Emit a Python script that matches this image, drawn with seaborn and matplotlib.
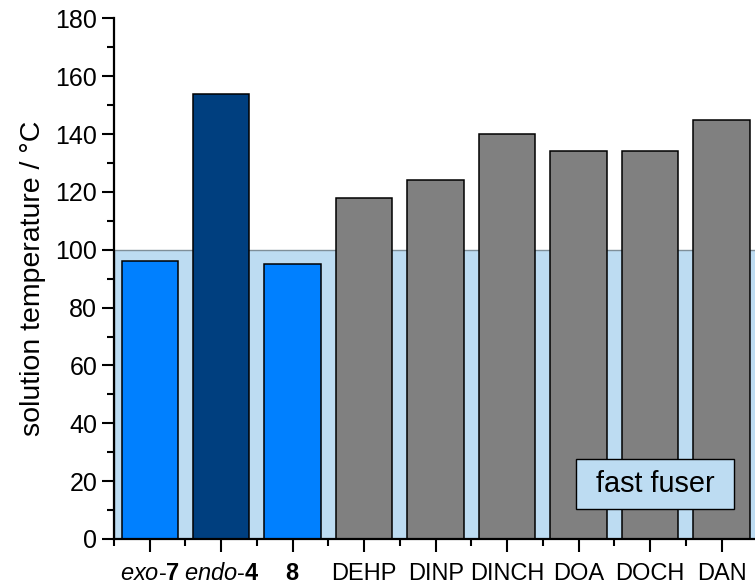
import matplotlib
matplotlib.use("Agg")
import matplotlib.pyplot as plt
from matplotlib.patches import Rectangle
import seaborn as sns
import pandas as pd
from matplotlib.ticker import MultipleLocator, FixedLocator

# Data
categories = ["exo-7", "endo-4", "8", "DEHP", "DINP", "DINCH", "DOA", "DOCH", "DAN"]
tick_labels = [r"$\mathit{exo}$-$\mathbf{7}$", r"$\mathit{endo}$-$\mathbf{4}$", r"$\mathbf{8}$",
               "DEHP", "DINP", "DINCH", "DOA", "DOCH", "DAN"]
temperatures = [96, 154, 95, 118, 124, 140, 134, 134, 145]
bar_colors = ["#0080FF", "#003F7F", "#0080FF", "#808080", "#808080",
              "#808080", "#808080", "#808080", "#808080"]
fast_fuser_limit = 100

sns.set_style("ticks")
plt.rcParams["font.family"] = ["Liberation Sans", "DejaVu Sans"]
plt.rcParams["text.color"] = "black"
plt.rcParams["axes.labelcolor"] = "black"
plt.rcParams["mathtext.fontset"] = "custom"
plt.rcParams["mathtext.rm"] = "Liberation Sans"
plt.rcParams["mathtext.it"] = "Liberation Sans:italic"
plt.rcParams["mathtext.bf"] = "Liberation Sans:bold"

df = pd.DataFrame({"compound": categories, "temp": temperatures})

fig = plt.figure(figsize=(7.55, 5.87), dpi=100)
ax = fig.add_axes([0.151, 0.0818, 0.852, 0.887])

# fast fuser region
ax.axhspan(0, fast_fuser_limit, xmin=0, xmax=1, facecolor="#BDDCF2",
           edgecolor="#7f8f99", linewidth=1.0, zorder=0)

sns.barplot(data=df, x="compound", y="temp", hue="compound",
            palette=dict(zip(categories, bar_colors)), legend=False,
            width=0.79, edgecolor="black", linewidth=1.1, saturation=1,
            ax=ax, zorder=2)

ax.set_xlim(-0.5, len(categories) - 0.5)
ax.set_ylim(0, 180)
ax.yaxis.set_major_locator(MultipleLocator(20))
ax.yaxis.set_minor_locator(MultipleLocator(10))
ax.xaxis.set_major_locator(FixedLocator(range(len(categories))))
ax.xaxis.set_minor_locator(FixedLocator([i - 0.5 for i in range(len(categories) + 1)]))
ax.set_xticklabels(tick_labels)

for side in ["top", "right"]:
    ax.spines[side].set_visible(False)
for side in ["left", "bottom"]:
    ax.spines[side].set_linewidth(1.6)
    ax.spines[side].set_color("black")
    ax.spines[side].set_zorder(5)

ax.tick_params(axis="both", which="major", direction="out", length=9, width=1.5,
               color="black", labelcolor="black")
ax.tick_params(axis="both", which="minor", direction="out", length=5, width=1.5,
               color="black")
ax.tick_params(axis="x", which="major", pad=8, labelsize=17)
ax.tick_params(axis="y", which="major", pad=3, labelsize=18)

ax.set_xlabel("")
ax.set_ylabel("solution temperature / °C", fontsize=20.5, labelpad=7)

# legend-style box for the shaded region
ax.add_patch(Rectangle((5.96, 10.4), 2.21, 17.3, facecolor="#BDDCF2",
                       edgecolor="black", linewidth=1.0, zorder=6))
ax.text(7.07, 19.0, "fast fuser", fontsize=20.8, ha="center", va="center", zorder=7)

fig.savefig("out.png", dpi=100)
